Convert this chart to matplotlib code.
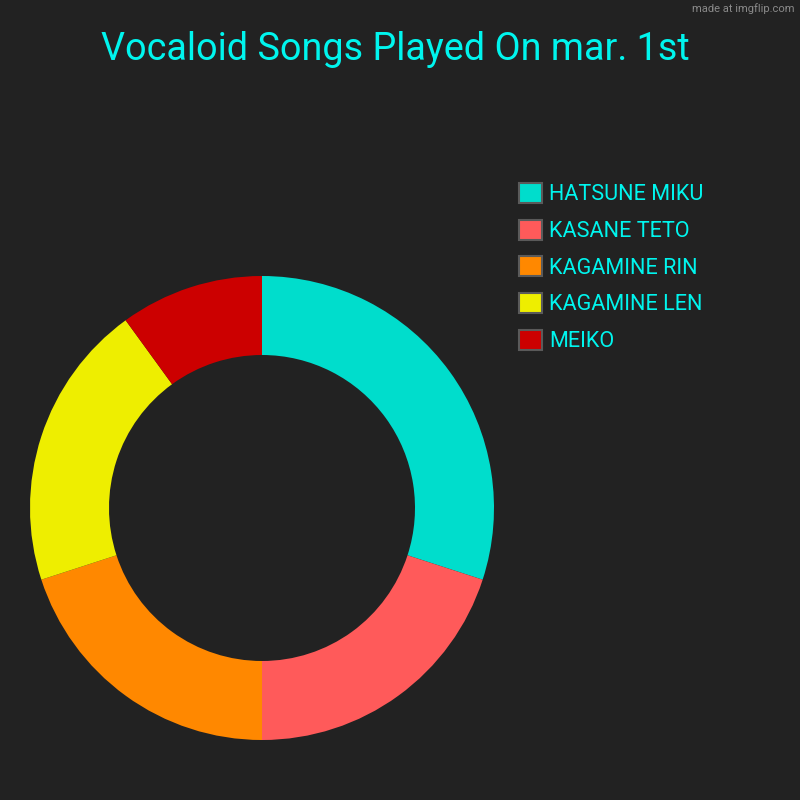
import matplotlib
matplotlib.use("Agg")
import matplotlib.pyplot as plt
from matplotlib.patches import Patch

labels = ["HATSUNE MIKU", "KASANE TETO", "KAGAMINE RIN", "KAGAMINE LEN", "MEIKO"]
values = [3, 2, 2, 2, 1]
colors = ["#00DDCC", "#FF5A5A", "#FF8800", "#EEEE00", "#CC0000"]
title = "Vocaloid Songs Played On mar. 1st"

BG = "#222222"
TXT = "#00F5EE"
plt.rcParams['font.family'] = ['Roboto', 'DejaVu Sans']

fig = plt.figure(figsize=(8, 8), dpi=100, facecolor=BG)
cx, cy, R = 262, 508, 232
ax = fig.add_axes([(cx - R) / 800, (800 - cy - R) / 800, 2 * R / 800, 2 * R / 800])
ax.set_facecolor(BG)
wedges, _ = ax.pie(values, colors=colors, startangle=90, counterclock=False,
                   radius=1, wedgeprops=dict(width=(232 - 153) / 232, linewidth=0))
ax.set_xlim(-1, 1)
ax.set_ylim(-1, 1)
ax.set_aspect('equal')
ax.axis('off')

fig.text(395 / 800, 1 - 50 / 800, title, color=TXT, fontsize=27.2, ha='center', va='center')
fig.text(795 / 800, 1 - 9 / 800, "made at imgflip.com", color="#8a8a8a", fontsize=8, ha='right', va='center')

handles = [Patch(facecolor=c, edgecolor="#5a5a5a", linewidth=1.5) for c in colors]
fig.legend(handles, labels, loc='upper left', bbox_to_anchor=(519 / 800, 1 - 183 / 800),
           frameon=False, fontsize=15.6, labelcolor=TXT, handlelength=1.05, handleheight=1.05,
           handletextpad=0.35, labelspacing=0.655, borderpad=0, borderaxespad=0)

fig.savefig("out.png", dpi=100, facecolor=BG)
